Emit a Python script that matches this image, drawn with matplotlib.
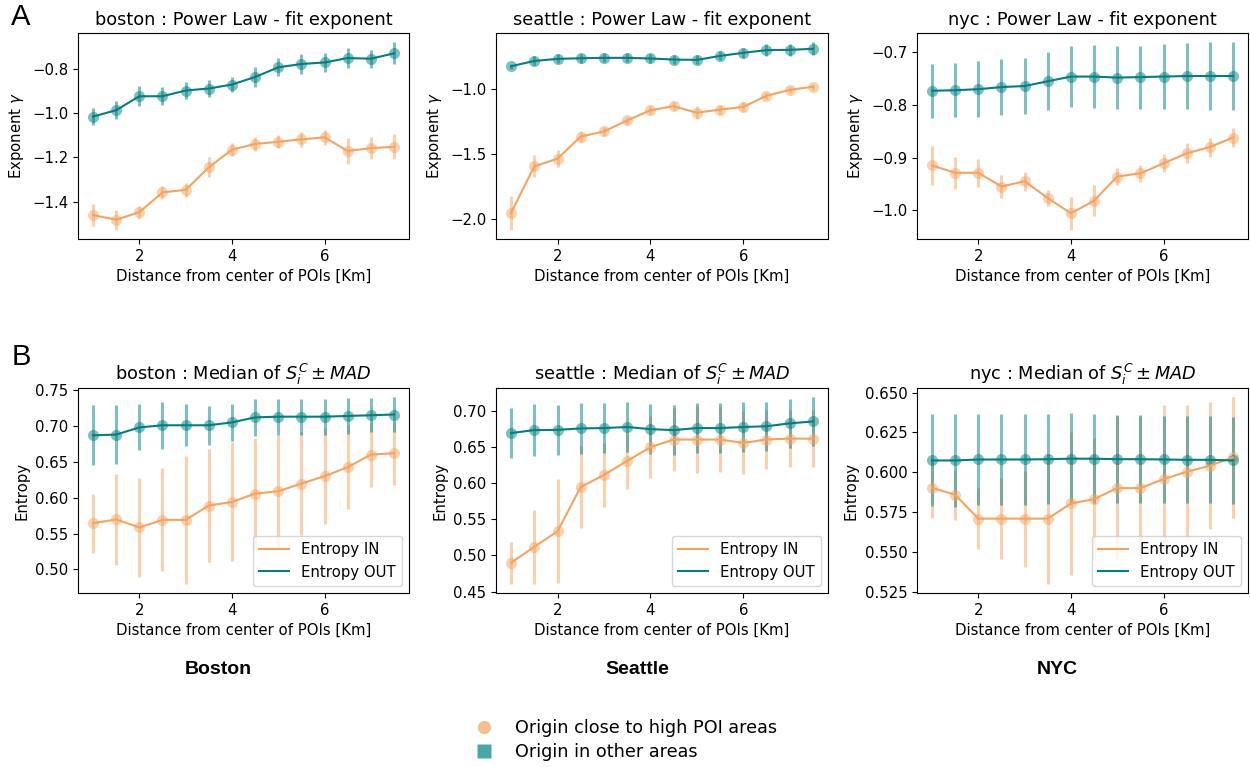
import numpy as np
import matplotlib
matplotlib.use("Agg")
import matplotlib.pyplot as plt
from matplotlib.lines import Line2D

# ---------------- data ----------------
distance = [1.0, 1.5, 2.0, 2.5, 3.0, 3.5, 4.0, 4.5, 5.0, 5.5, 6.0, 6.5, 7.0, 7.5]
cities = ["boston", "seattle", "nyc"]
city_labels = ["Boston", "Seattle", "NYC"]

# Power-law exponent (row A)
boston_exp_in = [-1.461, -1.482, -1.448, -1.358, -1.347, -1.245, -1.165, -1.139, -1.129, -1.118, -1.109, -1.171, -1.158, -1.152]
boston_exp_in_err = [0.05, 0.045, 0.03, 0.03, 0.03, 0.045, 0.03, 0.03, 0.03, 0.035, 0.035, 0.057, 0.05, 0.057]
boston_exp_out = [-1.015, -0.986, -0.923, -0.923, -0.897, -0.888, -0.870, -0.836, -0.792, -0.777, -0.770, -0.750, -0.753, -0.729]
boston_exp_out_err = [0.039, 0.04, 0.045, 0.04, 0.04, 0.04, 0.035, 0.045, 0.04, 0.045, 0.045, 0.045, 0.04, 0.05]

seattle_exp_in = [-1.956, -1.596, -1.536, -1.365, -1.325, -1.240, -1.161, -1.130, -1.180, -1.156, -1.135, -1.049, -1.003, -0.979]
seattle_exp_in_err = [0.13, 0.085, 0.065, 0.04, 0.035, 0.03, 0.03, 0.03, 0.05, 0.035, 0.035, 0.025, 0.025, 0.025]
seattle_exp_out = [-0.820, -0.779, -0.763, -0.758, -0.755, -0.755, -0.760, -0.768, -0.771, -0.740, -0.716, -0.695, -0.693, -0.685]
seattle_exp_out_err = [0.02, 0.035, 0.035, 0.035, 0.035, 0.035, 0.035, 0.035, 0.035, 0.035, 0.04, 0.045, 0.045, 0.05]

nyc_exp_in = [-0.915, -0.929, -0.929, -0.955, -0.945, -0.977, -1.006, -0.982, -0.936, -0.930, -0.911, -0.892, -0.880, -0.862]
nyc_exp_in_err = [0.037, 0.03, 0.027, 0.022, 0.018, 0.016, 0.031, 0.029, 0.017, 0.016, 0.017, 0.019, 0.018, 0.018]
nyc_exp_out = [-0.773, -0.772, -0.770, -0.766, -0.764, -0.755, -0.746, -0.746, -0.748, -0.747, -0.746, -0.745, -0.745, -0.745]
nyc_exp_out_err = [0.051, 0.051, 0.053, 0.053, 0.053, 0.055, 0.058, 0.06, 0.06, 0.06, 0.062, 0.0625, 0.064, 0.064]

# Entropy median +- MAD (row B)
boston_ent_in = [0.5645, 0.5696, 0.5584, 0.569, 0.569, 0.589, 0.594, 0.6056, 0.609, 0.6196, 0.630, 0.6425, 0.660, 0.662]
boston_ent_in_err = [0.041, 0.064, 0.069, 0.072, 0.089, 0.079, 0.083, 0.078, 0.079, 0.072, 0.067, 0.059, 0.045, 0.044]
boston_ent_out = [0.687, 0.688, 0.698, 0.701, 0.701, 0.701, 0.705, 0.712, 0.713, 0.713, 0.713, 0.714, 0.715, 0.716]
boston_ent_out_err = [0.042, 0.041, 0.032, 0.033, 0.029, 0.027, 0.026, 0.026, 0.025, 0.025, 0.025, 0.025, 0.024, 0.024]

seattle_ent_in = [0.4899, 0.512, 0.5334, 0.595, 0.6115, 0.631, 0.650, 0.6606, 0.6606, 0.6606, 0.656, 0.6606, 0.662, 0.6617]
seattle_ent_in_err = [0.029, 0.051, 0.072, 0.057, 0.044, 0.039, 0.043, 0.044, 0.046, 0.0445, 0.0436, 0.0415, 0.0396, 0.0396]
seattle_ent_out = [0.6696, 0.6737, 0.674, 0.676, 0.6765, 0.678, 0.675, 0.6737, 0.6765, 0.6765, 0.678, 0.679, 0.683, 0.6857]
seattle_ent_out_err = [0.035, 0.0355, 0.035, 0.035, 0.035, 0.035, 0.035, 0.035, 0.035, 0.035, 0.034, 0.034, 0.034, 0.0334]

nyc_ent_in = [0.5904, 0.586, 0.5711, 0.5711, 0.5711, 0.5711, 0.5806, 0.5833, 0.5902, 0.5902, 0.5958, 0.6004, 0.6042, 0.6094]
nyc_ent_in_err = [0.019, 0.0157, 0.019, 0.0255, 0.030, 0.0407, 0.045, 0.038, 0.045, 0.045, 0.0463, 0.042, 0.0397, 0.0376]
nyc_ent_out = [0.6075, 0.6075, 0.6081, 0.6081, 0.6081, 0.6083, 0.6086, 0.6086, 0.6083, 0.6083, 0.6081, 0.6079, 0.6079, 0.6075]
nyc_ent_out_err = [0.0288, 0.029, 0.0287, 0.0287, 0.0287, 0.0283, 0.0283, 0.028, 0.0277, 0.0277, 0.0275, 0.0273, 0.0273, 0.0272]

exp_in = [boston_exp_in, seattle_exp_in, nyc_exp_in]
exp_in_err = [boston_exp_in_err, seattle_exp_in_err, nyc_exp_in_err]
exp_out = [boston_exp_out, seattle_exp_out, nyc_exp_out]
exp_out_err = [boston_exp_out_err, seattle_exp_out_err, nyc_exp_out_err]
ent_in = [boston_ent_in, seattle_ent_in, nyc_ent_in]
ent_in_err = [boston_ent_in_err, seattle_ent_in_err, nyc_ent_in_err]
ent_out = [boston_ent_out, seattle_ent_out, nyc_ent_out]
ent_out_err = [boston_ent_out_err, seattle_ent_out_err, nyc_ent_out_err]

exp_yticks = [[-1.4, -1.2, -1.0, -0.8], [-2.0, -1.5, -1.0], [-1.0, -0.9, -0.8, -0.7]]
ent_yticks = [[0.50, 0.55, 0.60, 0.65, 0.70, 0.75],
              [0.45, 0.50, 0.55, 0.60, 0.65, 0.70],
              [0.525, 0.550, 0.575, 0.600, 0.625, 0.650]]
ent_fmt = ["%.2f", "%.2f", "%.3f"]
exp_fmt = ["%.1f", "%.1f", "%.1f"]

# ---------------- style ----------------
C_IN = "#F4A460"   # sandybrown
C_OUT = "#008080"  # teal
W, H = 1250, 767
FS = 10.7
TFS = 12.8

fig = plt.figure(figsize=(W / 100, H / 100), dpi=100)


def px_axes(left, top, right, bottom):
    return fig.add_axes([left / W, 1 - bottom / H, (right - left) / W, (bottom - top) / H])


def draw_series(ax, x, y, err, color, label=None):
    ax.errorbar(x, y, yerr=err, fmt="o", color=color, alpha=0.5, ms=8,
                elinewidth=2.2, capsize=0, mec="none", zorder=2)
    ax.plot(x, y, color=color, lw=1.5, label=label, zorder=3)


def minus_fmt(f):
    return matplotlib.ticker.FuncFormatter(lambda v, p: (f % v).replace("-", "\u2212"))


col_lr = [(78, 409), (496, 828), (917, 1248)]
rowA = (33, 239)
rowB = (388, 593)

for i, city in enumerate(cities):
    l, r = col_lr[i]
    ax = px_axes(l, rowA[0], r, rowA[1])
    draw_series(ax, distance, exp_in[i], exp_in_err[i], C_IN)
    draw_series(ax, distance, exp_out[i], exp_out_err[i], C_OUT)
    ax.set_title(f"{city} : Power Law - fit exponent", fontsize=TFS)
    ax.set_ylabel(r"Exponent $\gamma$", fontsize=FS)
    ax.set_xlabel("Distance from center of POIs [Km]", fontsize=FS)
    ax.set_xticks([2, 4, 6])
    ax.set_yticks(exp_yticks[i])
    ax.yaxis.set_major_formatter(minus_fmt(exp_fmt[i]))
    ax.tick_params(labelsize=FS)

    ax = px_axes(l, rowB[0], r, rowB[1])
    draw_series(ax, distance, ent_in[i], ent_in_err[i], C_IN, label="Entropy IN")
    draw_series(ax, distance, ent_out[i], ent_out_err[i], C_OUT, label="Entropy OUT")
    ax.set_title(f"{city} : Median of " + r"$S_i^C \pm MAD$", fontsize=TFS)
    ax.set_ylabel("Entropy", fontsize=FS)
    ax.set_xlabel("Distance from center of POIs [Km]", fontsize=FS)
    ax.set_xticks([2, 4, 6])
    ax.set_yticks(ent_yticks[i])
    ax.yaxis.set_major_formatter(minus_fmt(ent_fmt[i]))
    ax.tick_params(labelsize=FS)
    ax.legend(loc="lower right", fontsize=FS)

    fig.text(((l + r) / 2 - 25) / W, 1 - 670 / H, city_labels[i], fontsize=14,
             fontweight="bold", family="Liberation Sans", ha="center", va="center")

fig.text(21 / W, 1 - 17 / H, "A", fontsize=21, family="Liberation Sans", ha="center", va="center")
fig.text(21 / W, 1 - 357 / H, "B", fontsize=21, family="Liberation Sans", ha="center", va="center")

handles = [
    Line2D([], [], marker="o", ls="none", color=C_IN, alpha=0.7, ms=9.5, mec="none"),
    Line2D([], [], marker="s", ls="none", color=C_OUT, alpha=0.7, ms=9.5, mec="none"),
]
fig.legend(handles, ["Origin close to high POI areas", "Origin in other areas"],
           loc="center left", bbox_to_anchor=(450 / W, 1 - 740 / H), frameon=False,
           fontsize=12.7, handletextpad=0.8, labelspacing=0.35)

fig.savefig("out.png", dpi=100)
